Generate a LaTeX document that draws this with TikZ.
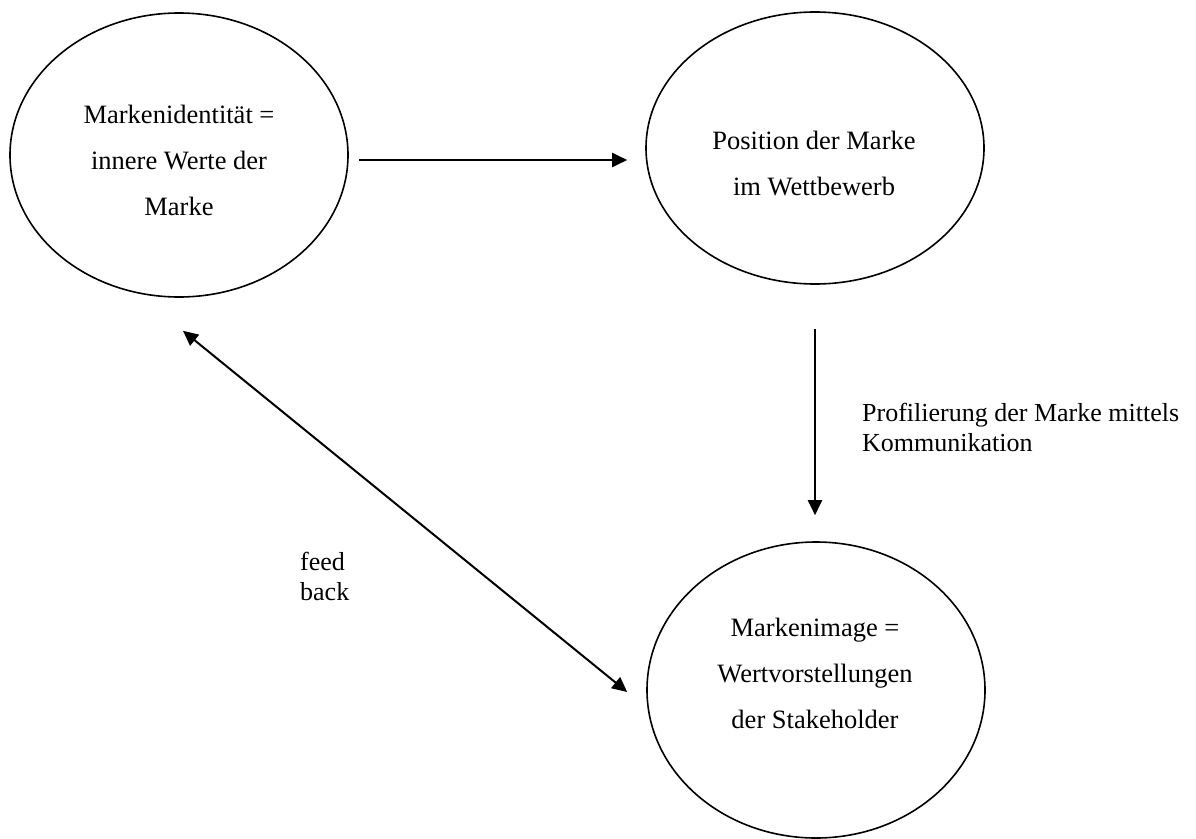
\documentclass[tikz,border=0pt]{standalone}
\usepackage{fontspec}
\setmainfont{Liberation Serif}
\usetikzlibrary{shapes.geometric,arrows.meta,calc}
\begin{document}
\begin{tikzpicture}[x=1pt,y=-1pt,
  ell/.style={draw=black,line width=1.6pt,ellipse,inner sep=0pt,minimum width=338pt},
  bigtxt/.style={align=center,inner sep=0pt,font=\fontsize{26.5}{46}\selectfont},
  smalltxt/.style={align=left,inner sep=0pt,font=\fontsize{26}{30}\selectfont},
  arr/.style={line width=2pt,-{Triangle[length=15pt,width=14pt]}},
  darr/.style={line width=2pt,{Triangle[length=15pt,width=14pt]}-{Triangle[length=15pt,width=14pt]}}]
\useasboundingbox (0,0) rectangle (1196,838);
\node[ell,minimum height=284pt] (A) at (179,155) {};
\node[ell,minimum height=272pt] (B) at (815,148) {};
\node[ell,minimum height=296pt] (C) at (816,690) {};
\node[bigtxt] (At) at (179,160) {Markenidentität =\\innere Werte der\\Marke};
\node[bigtxt] (Bt) at (814,164) {Position der Marke\\im Wettbewerb};
\node[bigtxt] (Ct) at (815,673) {Markenimage =\\Wertvorstellungen\\der Stakeholder};
\node[smalltxt,anchor=west] (P) at (862,427) {Profilierung der Marke mittels\\Kommunikation};
\node[smalltxt,anchor=west] (F) at (300,576) {feed\\back};
\draw[arr] ($(A.east)+(10,5)$) -- ($(B.west)+(-18,12)$);
\draw[arr] ($(B.south)+(0,44)$) -- ($(C.north)+(-1,-26)$);
\draw[darr] ($(A.south)+(4,33)$) -- ($(C.west)+(-19,2)$);
\end{tikzpicture}
\end{document}
